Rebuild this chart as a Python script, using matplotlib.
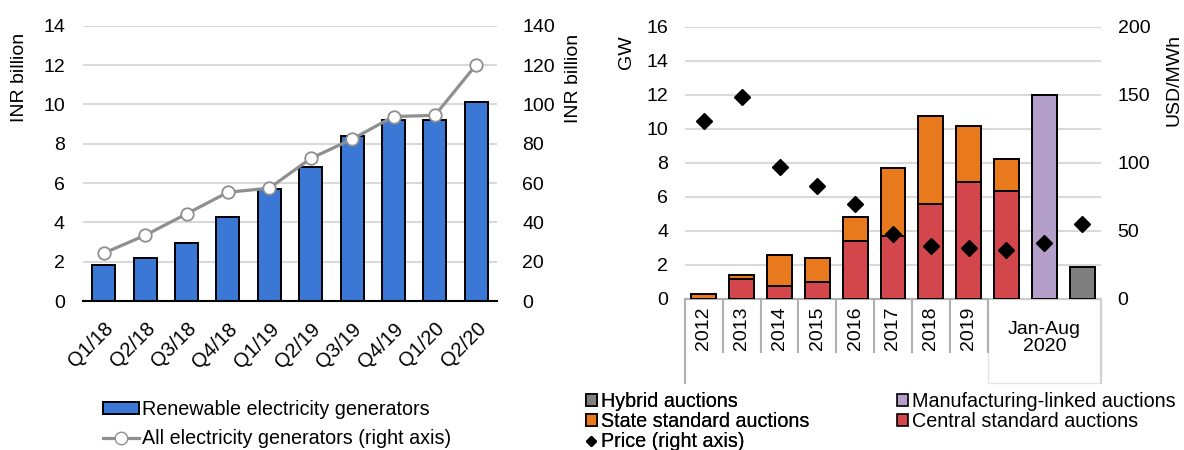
import matplotlib
matplotlib.use("Agg")
import matplotlib.pyplot as plt
from matplotlib.patches import Rectangle, Patch
from matplotlib.lines import Line2D
import numpy as np

plt.rcParams['font.family'] = ['Liberation Sans', 'DejaVu Sans']

# ---------------- data ----------------
quarters = ["Q1/18", "Q2/18", "Q3/18", "Q4/18", "Q1/19", "Q2/19",
            "Q3/19", "Q4/19", "Q1/20", "Q2/20"]
renewable = [1.85, 2.17, 2.94, 4.26, 5.72, 6.80, 8.37, 9.18, 9.22, 10.10]
all_generators = [24.3, 33.4, 44.3, 55.3, 57.4, 72.5, 82.3, 93.8, 94.4, 120.2]

year_labels = ["2012", "2013", "2014", "2015", "2016", "2017", "2018", "2019"]
group_label = "Jan-Aug\n2020"
central = [0.0, 1.12, 0.72, 0.96, 3.39, 3.67, 5.55, 6.87, 6.34, 0.0, 0.0]
state = [0.25, 0.25, 1.83, 1.43, 1.42, 3.99, 5.21, 3.30, 1.88, 0.0, 0.0]
manufacturing = [0, 0, 0, 0, 0, 0, 0, 0, 0, 12.0, 0]
hybrid = [0, 0, 0, 0, 0, 0, 0, 0, 0, 0, 1.83]
price = [130.8, 148.0, 96.7, 82.7, 69.6, 47.1, 38.5, 37.3, 36.0, 40.5, 54.9]

# ---------------- style ----------------
FS = 14
LFS = 14.2
BLUE = "#3b78d5"
ORANGE = "#e8791d"
RED = "#d3464b"
PURPLE = "#b49fcb"
GREY = "#7f7f7f"
LINEGREY = "#8f8f8f"
GRID = "#d9d9d9"
AXGREY = "#b0b0b0"

W, H = 1184, 450
fig = plt.figure(figsize=(W / 100, H / 100), dpi=100)


def fx(px):
    return px / W


def fy(py):
    return 1 - py / H


# ---------------- left chart ----------------
axL = fig.add_axes([fx(83), fy(301), fx(497 - 83), (301 - 25.7) / H])
x = np.arange(len(quarters))
axL.bar(x, renewable, width=0.56, color=BLUE, edgecolor="black",
        linewidth=1.4, zorder=3)
axL.set_xlim(-0.5, len(quarters) - 0.5)
axL.set_ylim(0, 14)
axL.set_yticks(np.arange(0, 15, 2))
axL.grid(axis="y", color=GRID, linewidth=1.5, zorder=0)
axL.set_axisbelow(True)
for s in ["top", "right", "left"]:
    axL.spines[s].set_visible(False)
axL.spines["bottom"].set_color("black")
axL.spines["bottom"].set_linewidth(1.5)
axL.spines["bottom"].set_zorder(4)
axL.tick_params(axis="y", length=0, pad=13, labelsize=FS)
axL.tick_params(axis="x", length=0, pad=13, labelsize=14.6)
axL.set_xticks(x)
axL.set_xticklabels(quarters, rotation=45, ha="right", rotation_mode="anchor")

axL2 = axL.twinx()
axL2.plot(x, all_generators, color=LINEGREY, linewidth=2.3, marker="o",
          markersize=9, markerfacecolor="white", markeredgecolor=LINEGREY,
          markeredgewidth=1.3, zorder=5)
axL2.set_ylim(0, 140)
axL2.set_yticks(np.arange(0, 141, 20))
for s in ["top", "right", "left", "bottom"]:
    axL2.spines[s].set_visible(False)
axL2.tick_params(axis="y", length=0, pad=18, labelsize=FS)

fig.text(fx(20), fy(77), "INR billion", rotation=90, ha="center",
         va="center", fontsize=FS)
fig.text(fx(573), fy(78), "INR billion", rotation=90, ha="center",
         va="center", fontsize=FS)

legL = fig.legend(
    handles=[Patch(facecolor=BLUE, edgecolor="black", linewidth=1.4),
             Line2D([0], [0], color=LINEGREY, linewidth=2.3, marker="o",
                    markersize=9, markerfacecolor="white",
                    markeredgecolor=LINEGREY)],
    labels=["Renewable electricity generators",
            "All electricity generators (right axis)"],
    loc="upper left", bbox_to_anchor=(fx(103), fy(400)), frameon=False,
    fontsize=LFS, handlelength=1.85, handleheight=0.5, handletextpad=0.12,
    labelspacing=0.52, borderpad=0, borderaxespad=0)

# ---------------- right chart ----------------
axR = fig.add_axes([fx(685), fy(298.5), fx(1101 - 685), (298.5 - 26.7) / H])
n = len(price)
xr = np.arange(n)
bw = 0.66


def nz(vals, bottom=None):
    idx = [i for i, v in enumerate(vals) if v > 0]
    b = None if bottom is None else [bottom[i] for i in idx]
    return idx, [vals[i] for i in idx], b


i, v, _ = nz(central)
axR.bar(i, v, width=bw, color=RED, edgecolor="black", linewidth=1.4, zorder=3)
i, v, b = nz(state, central)
axR.bar(i, v, bottom=b, width=bw, color=ORANGE, edgecolor="black",
        linewidth=1.4, zorder=3)
i, v, _ = nz(manufacturing)
axR.bar(i, v, width=bw, color=PURPLE, edgecolor="black", linewidth=1.4,
        zorder=3)
i, v, _ = nz(hybrid)
axR.bar(i, v, width=bw, color=GREY, edgecolor="black", linewidth=1.4,
        zorder=3)

axR.set_xlim(-0.5, n - 0.5)
axR.set_ylim(0, 16)
axR.set_yticks(np.arange(0, 17, 2))
axR.grid(axis="y", color=GRID, linewidth=1.5, zorder=0)
axR.set_axisbelow(True)
for s in ["top", "right", "left", "bottom"]:
    axR.spines[s].set_visible(False)
axR.tick_params(axis="y", length=0, pad=12, labelsize=FS)
axR.set_xticks(range(len(year_labels)))
axR.set_xticklabels(year_labels, rotation=90, va="top", ha="center")
axR.tick_params(axis="x", length=0, pad=6, labelsize=FS)

tr = axR.get_xaxis_transform()
y_short = -53.5 / 271.8
y_long = -84.5 / 271.8
# Jan-Aug group box
axR.add_patch(Rectangle((len(year_labels) - 0.5, y_long), 3, -y_long,
                        transform=tr, facecolor="white", edgecolor="#e6e6e6",
                        linewidth=1.0, clip_on=False, zorder=1))
axR.plot([-0.5, len(year_labels) - 0.5], [0, 0], transform=tr, color=AXGREY,
         linewidth=1.5, clip_on=False, zorder=2)
axR.plot([len(year_labels) - 0.5, n - 0.5], [0, 0], transform=tr,
         color="#cccccc", linewidth=1.5, clip_on=False, zorder=2)
axR.plot([-0.5, -0.5], [0, y_long], transform=tr, color=AXGREY,
         linewidth=1.5, clip_on=False)
for k in range(1, len(year_labels) + 1):
    axR.plot([k - 0.5, k - 0.5], [0, y_short], transform=tr, color=AXGREY,
             linewidth=1.5, clip_on=False, zorder=2)
axR.plot([n - 0.5, n - 0.5], [0, y_long], transform=tr, color="#d0d0d0",
         linewidth=1.5, clip_on=False, zorder=2)
axR.text(len(year_labels) + 1, -22 / 271.8, group_label, transform=tr,
         ha="center", va="top", fontsize=FS, linespacing=1.05)

axR2 = axR.twinx()
axR2.plot(xr, price, linestyle="none", marker="D", markersize=8.5,
          color="black", zorder=5)
axR2.set_ylim(0, 200)
axR2.set_yticks(np.arange(0, 201, 50))
for s in ["top", "right", "left", "bottom"]:
    axR2.spines[s].set_visible(False)
axR2.tick_params(axis="y", length=0, pad=12, labelsize=FS)

fig.text(fx(627), fy(52), "GW", rotation=90, ha="center", va="center",
         fontsize=FS)
fig.text(fx(1174), fy(80), "USD/MWh", rotation=90, ha="center",
         va="center", fontsize=FS)

sq = dict(edgecolor="black", linewidth=1.2)
leg1 = fig.legend(
    handles=[Patch(facecolor=GREY, **sq), Patch(facecolor=ORANGE, **sq),
             Line2D([0], [0], linestyle="none", marker="D", markersize=5,
                    color="black")],
    labels=["Hybrid auctions", "State standard auctions",
            "Price (right axis)"],
    loc="upper left", bbox_to_anchor=(fx(586), fy(392)), frameon=False,
    fontsize=LFS, handlelength=0.55, handleheight=0.55, handletextpad=0.2,
    labelspacing=0.05, borderpad=0, borderaxespad=0)
fig.add_artist(leg1)
leg2 = fig.legend(
    handles=[Patch(facecolor=PURPLE, **sq), Patch(facecolor=RED, **sq)],
    labels=["Manufacturing-linked auctions", "Central standard auctions"],
    loc="upper left", bbox_to_anchor=(fx(897), fy(392)), frameon=False,
    fontsize=LFS, handlelength=0.55, handleheight=0.55, handletextpad=0.2,
    labelspacing=0.05, borderpad=0, borderaxespad=0)

fig.savefig("out.png", dpi=100)
